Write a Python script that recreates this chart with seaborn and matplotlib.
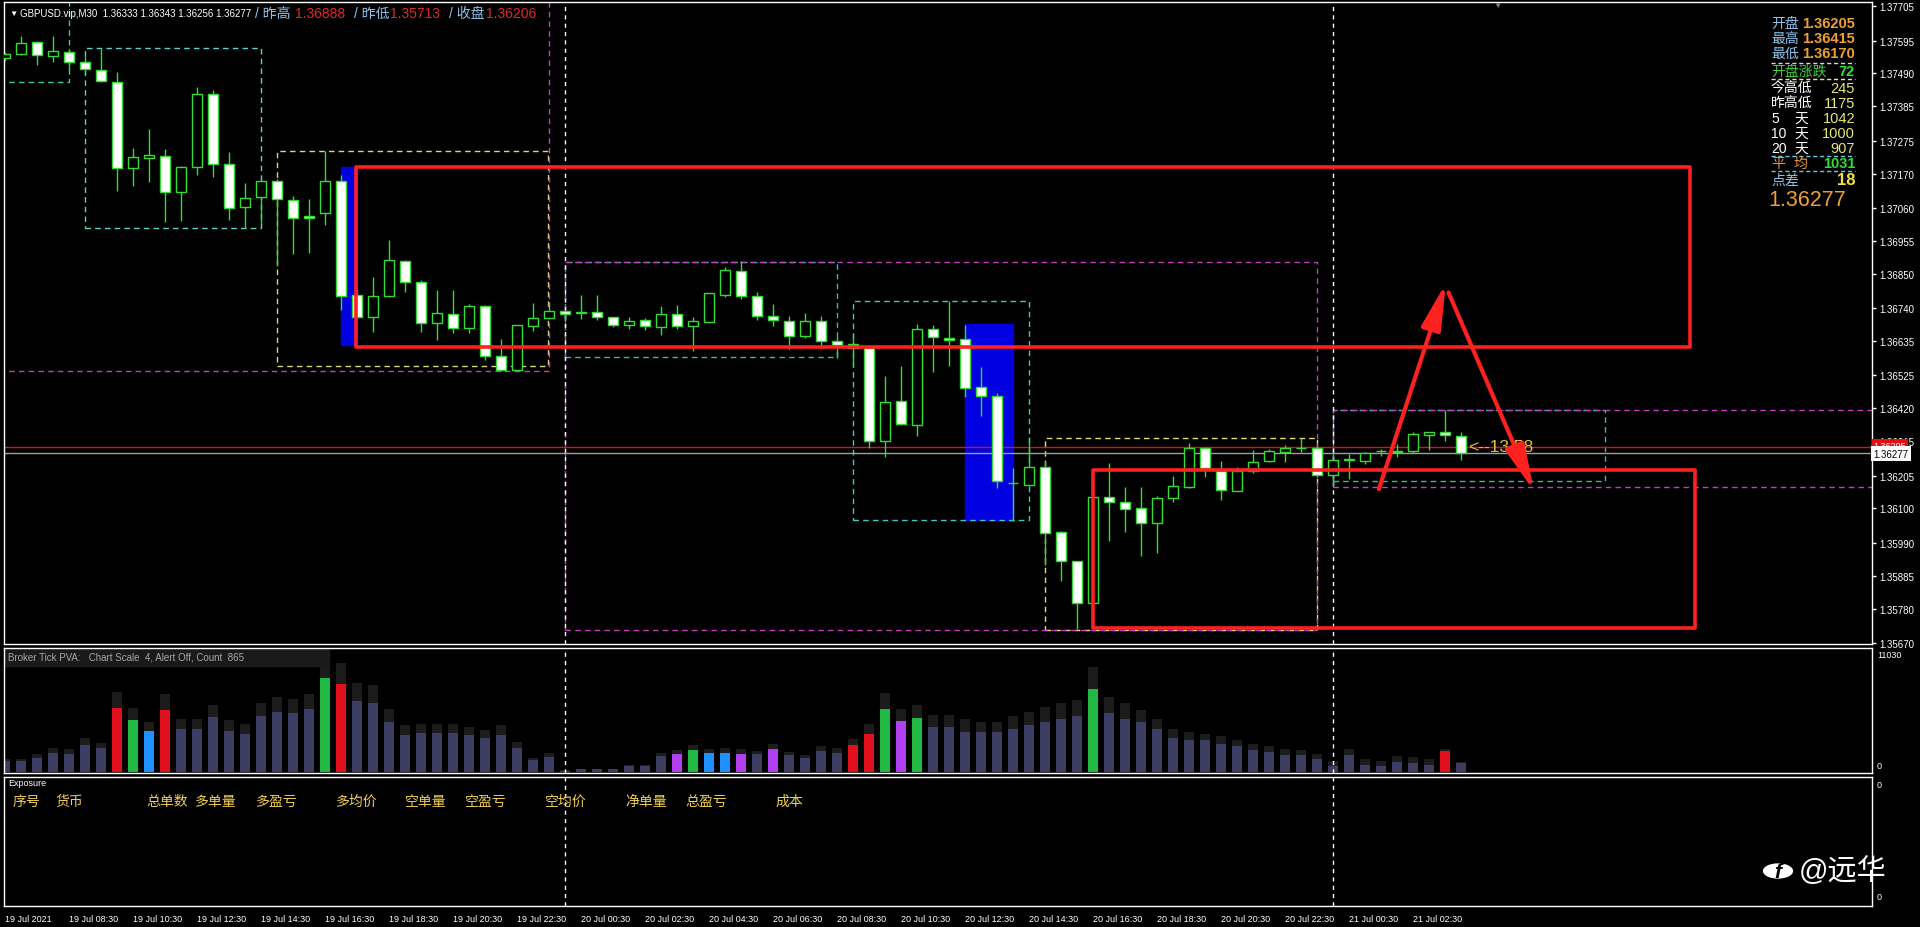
import numpy as np
import pandas as pd
import matplotlib
matplotlib.use("Agg")
import matplotlib.pyplot as plt
from matplotlib.patches import Rectangle, Circle
import seaborn as sns

# ---------------- GBPUSD.vip M30, values ----------------
opens = [1.37539, 1.37552, 1.37590, 1.37545, 1.37558, 1.37526, 1.37501, 1.37462, 1.37187, 1.37220,
         1.37226, 1.37111, 1.37191, 1.37424, 1.37200, 1.37063, 1.37095, 1.37146, 1.37085, 1.37034,
         1.37044, 1.37146, 1.36782, 1.36712, 1.36779, 1.36890, 1.36823, 1.36692, 1.36721, 1.36676,
         1.36747, 1.36587, 1.36542, 1.36683, 1.36708, 1.36731, 1.36726, 1.36727, 1.36712, 1.36686,
         1.36702, 1.36680, 1.36721, 1.36683, 1.36696, 1.36782, 1.36858, 1.36779, 1.36715, 1.36699,
         1.36651, 1.36699, 1.36635, 1.36625, 1.36612, 1.36315, 1.36443, 1.36366, 1.36673, 1.36644,
         1.36641, 1.36488, 1.36459, 1.36181, 1.36175, 1.36232, 1.36025, 1.35932, 1.35798, 1.36136,
         1.36120, 1.36101, 1.36053, 1.36133, 1.36168, 1.36293, 1.36219, 1.36156, 1.36219, 1.36251,
         1.36280, 1.36292, 1.36293, 1.36207, 1.36255, 1.36251, 1.36282, 1.36279, 1.36283, 1.36335,
         1.36343, 1.36333]
highs = [1.37558, 1.37609, 1.37593, 1.37610, 1.37568, 1.37546, 1.37570, 1.37493, 1.37251, 1.37312,
         1.37248, 1.37195, 1.37445, 1.37437, 1.37238, 1.37140, 1.37149, 1.37152, 1.37097, 1.37088,
         1.37243, 1.37165, 1.36801, 1.36838, 1.36958, 1.36894, 1.36831, 1.36799, 1.36799, 1.36753,
         1.36750, 1.36641, 1.36686, 1.36755, 1.36760, 1.36734, 1.36782, 1.36782, 1.36713, 1.36712,
         1.36707, 1.36748, 1.36750, 1.36712, 1.36789, 1.36872, 1.36889, 1.36790, 1.36753, 1.36714,
         1.36724, 1.36716, 1.36647, 1.36657, 1.36616, 1.36524, 1.36556, 1.36689, 1.36686, 1.36764,
         1.36686, 1.36551, 1.36469, 1.36228, 1.36327, 1.36255, 1.36029, 1.35933, 1.36137, 1.36245,
         1.36167, 1.36167, 1.36141, 1.36204, 1.36308, 1.36296, 1.36252, 1.36234, 1.36287, 1.36290,
         1.36303, 1.36324, 1.36303, 1.36274, 1.36274, 1.36281, 1.36290, 1.36306, 1.36343, 1.36345,
         1.36415, 1.36343]
lows = [1.37529, 1.37548, 1.37516, 1.37527, 1.37501, 1.37488, 1.37461, 1.37115, 1.37130, 1.37142,
        1.37016, 1.37019, 1.37166, 1.37158, 1.37022, 1.36995, 1.37009, 1.36875, 1.36913, 1.36916,
        1.37005, 1.36735, 1.36705, 1.36663, 1.36774, 1.36790, 1.36664, 1.36638, 1.36659, 1.36659,
        1.36575, 1.36540, 1.36540, 1.36666, 1.36705, 1.36696, 1.36705, 1.36702, 1.36680, 1.36673,
        1.36670, 1.36655, 1.36673, 1.36602, 1.36692, 1.36774, 1.36769, 1.36703, 1.36684, 1.36609,
        1.36644, 1.36620, 1.36581, 1.36556, 1.36292, 1.36263, 1.36366, 1.36330, 1.36535, 1.36556,
        1.36457, 1.36396, 1.36164, 1.36061, 1.36172, 1.35919, 1.35869, 1.35715, 1.35795, 1.35997,
        1.36024, 1.35949, 1.35958, 1.36120, 1.36164, 1.36201, 1.36128, 1.36155, 1.36212, 1.36250,
        1.36249, 1.36281, 1.36204, 1.36173, 1.36194, 1.36242, 1.36268, 1.36263, 1.36276, 1.36288,
        1.36316, 1.36256]
closes = [1.37552, 1.37587, 1.37548, 1.37561, 1.37526, 1.37504, 1.37465, 1.37187, 1.37223, 1.37229,
          1.37111, 1.37191, 1.37424, 1.37200, 1.37060, 1.37092, 1.37146, 1.37088, 1.37028, 1.37028,
          1.37146, 1.36780, 1.36712, 1.36779, 1.36894, 1.36823, 1.36692, 1.36724, 1.36676, 1.36747,
          1.36587, 1.36542, 1.36686, 1.36708, 1.36731, 1.36722, 1.36725, 1.36712, 1.36686, 1.36699,
          1.36683, 1.36721, 1.36683, 1.36699, 1.36788, 1.36862, 1.36779, 1.36715, 1.36702, 1.36651,
          1.36699, 1.36635, 1.36622, 1.36612, 1.36315, 1.36440, 1.36370, 1.36673, 1.36648, 1.36638,
          1.36485, 1.36459, 1.36188, 1.36180, 1.36232, 1.36021, 1.35932, 1.35798, 1.36136, 1.36120,
          1.36098, 1.36053, 1.36133, 1.36172, 1.36293, 1.36229, 1.36159, 1.36219, 1.36248, 1.36283,
          1.36293, 1.36293, 1.36207, 1.36255, 1.36256, 1.36277, 1.36283, 1.36284, 1.36338, 1.36343,
          1.36335, 1.36277]

# tick volume: coloured part and dark shadow part on top
vol_main = [1029, 1029, 1340, 1745, 1652, 2493, 2244, 5953, 4862, 3802,
            5797, 3989, 3989, 5111, 3802, 3522, 5236, 5610, 5485, 5859,
            8758, 8197, 6639, 6421, 4706, 3428, 3615, 3615, 3615, 3428,
            3148, 3428, 2275, 1122, 1371, 94, 249, 249, 249, 561,
            561, 1496, 1652, 2026, 1745, 1745, 1652, 1652, 2119, 1558,
            1278, 1932, 1745, 2493, 3522, 5859, 4737, 5018, 4176, 4239,
            3779, 3779, 3779, 4008, 4351, 4695, 4924, 5267, 7786, 5496,
            4924, 4695, 4008, 3206, 2977, 2977, 2634, 2405, 2061, 1832,
            1603, 1603, 1260, 573, 1603, 687, 573, 916, 802, 687,
            1947, 802]
vol_shadow = [1247, 1184, 1652, 2244, 2119, 3148, 2743, 7480, 6015, 4706,
              7262, 4987, 4987, 6296, 4831, 4457, 6483, 7044, 6857, 7262,
              9911, 10223, 8291, 8103, 5922, 4363, 4519, 4519, 4519, 4239,
              3927, 4363, 2836, 1340, 1745, 156, 312, 312, 312, 686,
              686, 1808, 2026, 2555, 2119, 2244, 2119, 1964, 2587, 1870,
              1590, 2431, 2213, 3054, 4457, 7355, 5922, 6234, 5298, 5298,
              4924, 4695, 4695, 5267, 5611, 6069, 6412, 6756, 9847, 6985,
              6412, 5840, 4924, 4008, 3779, 3550, 3320, 2977, 2634, 2405,
              2176, 2061, 1718, 1031, 2176, 1260, 1031, 1489, 1374, 1260,
              2176, 916]
vol_kind = ("nnnnnnnrgbrnnnnnnnnngr" "nnnnnnnnnnnnnnnnnnnn" "pgbbpnpnnnnrrgpg"
            "nnnnnnnnnng" "nnnnnnnnnnnnnnnnnnnnnrn")

time_labels = ["19 Jul 2021", "19 Jul 08:30", "19 Jul 10:30", "19 Jul 12:30", "19 Jul 14:30",
               "19 Jul 16:30", "19 Jul 18:30", "19 Jul 20:30", "19 Jul 22:30", "20 Jul 00:30",
               "20 Jul 02:30", "20 Jul 04:30", "20 Jul 06:30", "20 Jul 08:30", "20 Jul 10:30",
               "20 Jul 12:30", "20 Jul 14:30", "20 Jul 16:30", "20 Jul 18:30", "20 Jul 20:30",
               "20 Jul 22:30", "21 Jul 00:30", "21 Jul 02:30"]
price_ticks = [1.37705, 1.37595, 1.37490, 1.37385, 1.37275, 1.37170, 1.37060, 1.36955, 1.36850,
               1.36740, 1.36635, 1.36525, 1.36420, 1.36315, 1.36205, 1.36100, 1.35990, 1.35885,
               1.35780, 1.35670]
day_starts = [35, 83]
bid, ask = 1.36277, 1.36295
prev_high, prev_low, prev_close = 1.36888, 1.35713, 1.36206
today_high, today_low = 1.36415, 1.36170
day19_low = 1.36540

info_labels = ["开盘", "最高", "最低", "开盘涨跌", "今高低", "昨高低", "5|天", "10|天", "20|天", "平|均", "点差"]
info_values = ["1.36205", "1.36415", "1.36170", "72", "245", "1175", "1042", "1000", "907", "1031", "18"]
exposure_cols = ["序号", "货币", "总单数", "多单量", "多盈亏", "多均价", "空单量", "空盈亏", "空均价", "净单量", "总盈亏", "成本"]

# ---------------- style ----------------
sns.set_style("dark", {"axes.facecolor": "black", "figure.facecolor": "black",
                       "axes.edgecolor": "white", "text.color": "white",
                       "xtick.color": "white", "ytick.color": "white"})
plt.rcParams["font.family"] = ["Liberation Sans", "Noto Sans CJK SC", "DejaVu Sans"]

GREEN = "#33dd33"
RED = "#ff2020"
LBLUE = "#8cc4ec"
ORANGE = "#f0a030"
YEL = "#e8e870"
kind_color = {"n": "#3b3d63", "r": "#e0101c", "g": "#22b844", "b": "#1e90ff", "p": "#b040f0"}

W, H = 1920, 928
fig = plt.figure(figsize=(W / 100, H / 100), dpi=100, facecolor="black")


def fx(x):
    return x / W


def fy(y):
    return 1 - y / H


XL = ((4 - 5.3) / 16, (1872 - 5.3) / 16)


def add_panel(y0, y1):
    a = fig.add_axes([fx(4), fy(y1), fx(1872) - fx(4), fy(y0) - fy(y1)])
    a.set_facecolor("black")
    for s in a.spines.values():
        s.set_color("white")
        s.set_linewidth(1)
    a.grid(False)
    return a


ax = add_panel(3, 645)
axv = add_panel(649, 774)
axe = add_panel(778, 907)

# ---------------- main price panel ----------------
idx = np.arange(len(opens))
o, h, l, c = (np.array(v) for v in (opens, highs, lows, closes))
ax.vlines(idx, l, h, color=GREEN, lw=1, zorder=3)
bear = c < o
body_lo = np.minimum(o, c)
body_h = np.maximum(np.abs(c - o), 0.00002)
ax.bar(idx, body_h, bottom=body_lo, width=0.62, color=np.where(bear, "white", "black"),
       edgecolor=GREEN, linewidth=1, zorder=4)

# blue rectangles behind candles
ax.add_patch(Rectangle((21, 1.36622), 1, 1.37191 - 1.36622, color="#0000e0", zorder=1))
ax.add_patch(Rectangle((60, 1.36063), 3, 1.36689 - 1.36063, color="#0000e0", zorder=1))

# session / day boxes (dashed)
dash = (0, (4, 3))
boxes = [(-1, 4, 1.37462, 1.3790, "#40c890"), (5, 16, 1.36996, 1.37571, "#60d0c8"),
         (17, 33.9, 1.36555, 1.37242, "#d8d878"), (35, 52, 1.36584, 1.36887, "#40b8a0"),
         (53, 64, 1.36063, 1.36763, "#40c8b8"), (65, 82, prev_low, 1.36325, "#e0e070"),
         (83, 100, 1.36188, today_high, "#40b8a0"),
         (-1, 34, day19_low, 1.3790, "#c040c0"), (35, 82, prev_low, prev_high, "#c040c0"),
         (83, 140, today_low, today_high, "#c040c0")]
for x0, x1, y0, y1, col in boxes:
    ax.add_patch(Rectangle((x0, y0), x1 - x0, y1 - y0, fill=False, ec=col, lw=1, ls=dash, zorder=2))

# red annotation rectangles
ax.add_patch(Rectangle((21.9, 1.36617), 105.3 - 21.9, 1.37191 - 1.36617, fill=False, ec=RED, lw=2.6,
                       joinstyle="round", zorder=6))
ax.add_patch(Rectangle((68.0, 1.35718), 105.6 - 68.0, 1.36224 - 1.35718, fill=False, ec=RED, lw=2.6,
                       joinstyle="round", zorder=6))

# bid / ask lines
ax.axhline(ask, color="#e01010", lw=1, zorder=2)
ax.axhline(bid, color="#a0a0a0", lw=1, zorder=2)

ax.text(91.4, 1.36297, "<--13.58", color="#e0c040", fontsize=12.5, va="center", ha="left", zorder=5)

# red arrows
arrow_kw = dict(arrowstyle="-|>,head_length=1.4,head_width=0.3", color=RED, lw=3, mutation_scale=20,
                shrinkA=0, shrinkB=0)
ax.annotate("", xy=(90.04, 1.36820), xytext=(85.85, 1.36162), arrowprops=arrow_kw, zorder=7)
ax.annotate("", xy=(95.54, 1.36156), xytext=(90.2, 1.36790), arrowprops=arrow_kw, zorder=7)

ax.set_xlim(XL)
ax.set_ylim(1.35667, 1.37718)
ax.set_xticks([])
ax.yaxis.tick_right()
ax.set_yticks(price_ticks)
ax.set_yticklabels([f"{p:.5f}" for p in price_ticks])
ax.tick_params(axis="y", colors="white", labelsize=7, length=3, width=1, pad=2, direction="out")

# price label boxes on the axis
yt = ax.get_yaxis_transform()
ax.text(1.0008, ask + 0.00006, f"{ask:.5f}", transform=yt, fontsize=6.5, color="white", va="center",
        ha="left", bbox=dict(boxstyle="square,pad=0.2", fc="#e01010", ec="none"), clip_on=False, zorder=8)
ax.text(1.0008, bid - 0.00002, f"{bid:.5f}", transform=yt, fontsize=7, color="black", va="center",
        ha="left", bbox=dict(boxstyle="square,pad=0.25", fc="white", ec="none"), clip_on=False, zorder=9)

# ---------------- tick volume panel (seaborn) ----------------
bar_ids = [str(i) for i in range(len(vol_main))]
vdf = pd.DataFrame({"bar": bar_ids, "vol": vol_main, "shadow": vol_shadow})
pal = {b: kind_color[k] for b, k in zip(bar_ids, vol_kind)}
sns.barplot(data=vdf, x="bar", y="shadow", order=bar_ids, color="#1c1c1c", saturation=1,
            width=0.64, errorbar=None, linewidth=0, edgecolor="none", ax=axv)
sns.barplot(data=vdf, x="bar", y="vol", hue="bar", order=bar_ids, palette=pal, saturation=1,
            width=0.64, errorbar=None, legend=False, linewidth=0, edgecolor="none", ax=axv)
axv.add_patch(Rectangle((0, 0.86), 0.174, 0.14, transform=axv.transAxes, color="#1a1a1a", zorder=0.1))
axv.set_xlim(XL)
axv.set_ylim(-94, 11594)
axv.set_xticks([])
axv.set_yticks([])
axv.set_xlabel("")
axv.set_ylabel("")

# ---------------- exposure panel ----------------
axe.set_xlim(XL)
axe.set_ylim(0, 1)
axe.set_yticks([])
axe.set_xticks(np.arange(0, 4 * len(time_labels), 4))
axe.set_xticklabels(time_labels, ha="left", fontsize=6.5, color="white")
axe.tick_params(axis="x", colors="white", length=4, width=1, pad=1.5, direction="out")

for a in (ax, axv, axe):
    for d in day_starts:
        a.axvline(d, color="white", lw=1, ls=(0, (3, 3)), zorder=2)

# ---------------- texts ----------------
fig.text(fx(9), fy(14), "▼", color="white", fontsize=6, va="center")
fig.text(fx(20), fy(14), "GBPUSD.vip,M30  1.36333 1.36343 1.36256 1.36277", color="white",
         fontsize=7, va="center")
head = [("/ 昨高", 255, LBLUE), (f"{prev_high:.5f}", 295, "#e02828"), ("/ 昨低", 354, LBLUE),
        (f"{prev_low:.5f}", 390, "#e02828"), ("/ 收盘", 449, LBLUE), (f"{prev_close:.5f}", 486, "#e02828")]
for t, x, col in head:
    fig.text(fx(x), fy(14), t, color=col, fontsize=10, va="center")
fig.text(fx(1497), fy(6), "▼", color="#808080", fontsize=6, va="center", ha="center")

# info panel (top right)
row_y = [24, 39, 54, 72, 89, 104, 119, 134, 149, 164, 181]
lab_col = [LBLUE, LBLUE, LBLUE, "#40d040", "white", "white", "white", "white", "white", "#e89830", LBLUE]
val_col = [ORANGE, ORANGE, ORANGE, "#30e030", YEL, YEL, YEL, YEL, YEL, "#30e030", "#f0e040"]
val_bold = [True, True, True, True, False, False, False, False, False, True, True]
for lab, val, y, lc, vc, b in zip(info_labels, info_values, row_y, lab_col, val_col, val_bold):
    if "|" in lab:
        left, right = lab.split("|")
        fig.text(fx(1771), fy(y), left, color=lc, fontsize=10, va="center")
        fig.text(fx(1794), fy(y), right, color=lc, fontsize=10, va="center")
    else:
        fig.text(fx(1771), fy(y), lab, color=lc, fontsize=10, va="center")
    fig.text(fx(1855), fy(y), val, color=vc, fontsize=12 if val == "18" else 10.5,
             fontweight="bold" if b else "normal", va="center", ha="right")
for y, col in zip([64, 80, 157, 172], ["#e8c8e8", "#e8e890", "#60c8e8", "#60c8e8"]):
    fig.add_artist(plt.Line2D([fx(1771), fx(1855)], [fy(y), fy(y)], color=col, lw=1, ls=(0, (3, 2)),
                              transform=fig.transFigure))
fig.text(fx(1768), fy(201), f"{bid:.5f}", color=ORANGE, fontsize=15.5, va="center")

# volume panel texts
fig.text(fx(8), fy(658), "Broker Tick PVA:   Chart Scale  4, Alert Off, Count  865", color="#a8a8a8",
         fontsize=7, va="center")
fig.text(fx(1877), fy(656), "11030", color="white", fontsize=6.5, va="center")
fig.text(fx(1877), fy(767), "0", color="white", fontsize=6.5, va="center")

# exposure panel texts
fig.text(fx(8), fy(784), "Exposure", color="white", fontsize=6.5, va="center")
col_x = [13, 55, 146, 195, 256, 336, 405, 465, 545, 625, 685, 775]
for t, x in zip(exposure_cols, col_x):
    fig.text(fx(x), fy(802), t, color="#f0d050", fontsize=10, va="center")
fig.text(fx(1877), fy(785), "0", color="white", fontsize=6.5, va="center")
fig.text(fx(1877), fy(898), "0", color="white", fontsize=6.5, va="center")

# watermark
fig.add_artist(Circle((fx(1778), fy(872)), 0.0075, transform=fig.transFigure, color="white"))
fig.text(fx(1778), fy(873), "f", color="black", fontsize=15, fontweight="bold", style="italic",
         ha="center", va="center")
fig.text(fx(1799), fy(872), "@远华", color="white", fontsize=21, va="center")

fig.savefig("out.png", dpi=100, facecolor="black")
